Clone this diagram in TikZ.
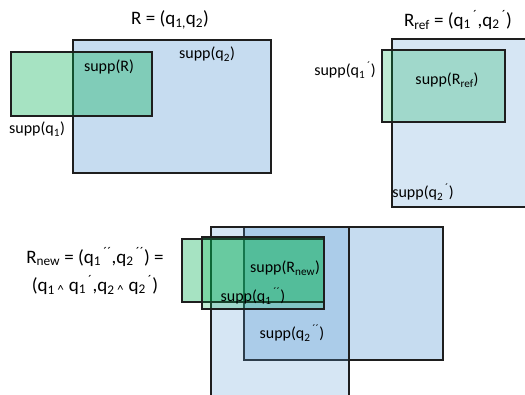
\documentclass[tikz,border=0pt]{standalone}
\usepackage{fontspec}
\setmainfont{Carlito}
\definecolor{SuppGreen}{HTML}{00B050}
\definecolor{SuppBlue}{HTML}{5B9BD5}
\definecolor{EdgeDark}{HTML}{1E1E1E}
\newcommand{\qp}{\textsuperscript{\,\symbol{"00B4}}}
\newcommand{\qpp}{\textsuperscript{\,\symbol{"00B4}\symbol{"00B4}}}
\tikzset{
  suppbox/.style={draw=EdgeDark, line width=1.1pt},
  greenbox/.style={suppbox, fill=SuppGreen, fill opacity=0.35},
  palegreen/.style={suppbox, fill=SuppGreen, fill opacity=0.25},
  bluebox/.style={suppbox, fill=SuppBlue, fill opacity=0.35},
  paleblue/.style={suppbox, fill=SuppBlue, fill opacity=0.25},
  lbl/.style={inner sep=0pt, font=\fontsize{16}{19}\selectfont},
  ttl/.style={inner sep=0pt, font=\fontsize{19}{28}\selectfont, align=center}
}

\begin{document}
\begin{tikzpicture}[x=1pt,y=-1pt]
  \clip (0,0) rectangle (525,394);

  % R = (q1,q2)
  \draw[bluebox] (73,40) rectangle (271,173);
  \draw[greenbox] (11,52) rectangle (152,116);
  \node[ttl] (titleR) at (170,20) {R = (q\textsubscript{1,}q\textsubscript{2})};
  \node[lbl] (suppQtwo) at (207,54) {supp(q\textsubscript{2})};
  \node[lbl] (suppR) at (109,67) {supp(R)};
  \node[lbl] (suppQone) at (37,129) {supp(q\textsubscript{1})};

  % R_ref
  \draw[paleblue] (392,39) rectangle (530,207);
  \draw[palegreen] (382,50) rectangle (505,122);
  \node[ttl] (titleRef) at (458,20) {R\textsubscript{ref} = (q\textsubscript{1}\qp,q\textsubscript{2}\qp)};
  \node[lbl] (suppQoneP) at (345,70) {supp(q\textsubscript{1}\qp)};
  \node[lbl] (suppRef) at (447,80) {supp(R\textsubscript{ref})};
  \node[lbl] (suppQtwoP) at (423,192) {supp(q\textsubscript{2}\qp)};

  % R_new
  \draw[bluebox] (244,227) rectangle (443,360);
  \draw[paleblue] (211,227) rectangle (349,400);
  \draw[greenbox] (182,239) rectangle (324,302);
  \draw[palegreen] (202,237) rectangle (324,309);
  \node[ttl] (titleNew) at (95,271) {R\textsubscript{new} = (q\textsubscript{1}\qpp,q\textsubscript{2}\qpp) =\\
    (q\textsubscript{1 \textasciicircum} q\textsubscript{1}\qp,q\textsubscript{2 \textasciicircum} q\textsubscript{2}\qp)};
  \node[lbl] (suppNew) at (285,268) {supp(R\textsubscript{new})};
  \node[lbl] (suppQonePP) at (253,296) {supp(q\textsubscript{1}\qpp)};
  \node[lbl] (suppQtwoPP) at (292,333) {supp(q\textsubscript{2}\qpp)};
\end{tikzpicture}
\end{document}
